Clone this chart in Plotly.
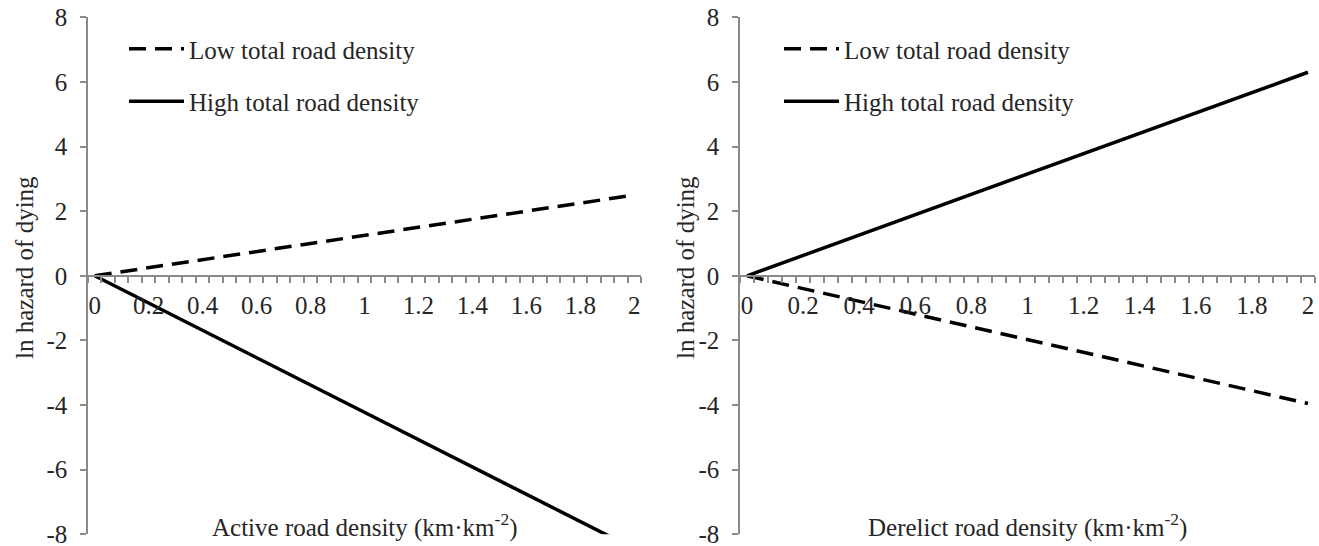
import plotly.graph_objects as go

# ---- data ----
x_density = [0, 2]
active_low = [0, 2.5]
active_high = [0, -8.45]
derelict_low = [0, -3.95]
derelict_high = [0, 6.3]

series_names = ["Low total road density", "High total road density"]
x_titles = ["Active road density (km·km<sup>-2</sup>)",
            "Derelict road density (km·km<sup>-2</sup>)"]
y_title = "ln hazard of dying"
y_tickvals = [-8, -6, -4, -2, 0, 2, 4, 6, 8]
y_ticktext = ["-8", "-6", "-4", "-2", "0", "2", "4", "6", "8"]
x_tickvals = [0, 0.2, 0.4, 0.6, 0.8, 1, 1.2, 1.4, 1.6, 1.8, 2]
x_ticktext = ["0", "0.2", "0.4", "0.6", "0.8", "1", "1.2", "1.4", "1.6", "1.8", "2"]

W, H = 1319, 546
FONT = "Liberation Serif"
FS = 25
AXC = "#8a8a8a"
TXT = "#262626"

ydom = [(546 - 534.3) / H, (546 - 17.3) / H]
xdoms = [[88 / W, 641 / W], [740 / W, 1315 / W]]
ymid = (ydom[0] + ydom[1]) / 2

fig = go.Figure()
DASH = "17px,9px"

panels = [(active_low, active_high, "x", "y", "legend"),
          (derelict_low, derelict_high, "x2", "y2", "legend2")]
for i, (low, high, xa, ya, lg) in enumerate(panels):
    fig.add_trace(go.Scatter(x=x_density, y=low, mode="lines", name=series_names[0],
                             line=dict(color="black", width=3.5, dash=DASH),
                             xaxis=xa, yaxis=ya, legend=lg, legendgroup=f"a{i}"))
    fig.add_trace(go.Scatter(x=x_density, y=high, mode="lines", name=series_names[1],
                             line=dict(color="black", width=3.5),
                             xaxis=xa, yaxis=ya, legend=lg, legendgroup=f"b{i}"))

def xaxis_cfg(dom):
    return dict(domain=dom, range=[-0.025, 2.025], anchor="free", position=ymid,
                showgrid=False, zeroline=False, automargin=False,
                showline=True, linecolor=AXC, linewidth=1.5,
                tickmode="array", tickvals=x_tickvals, ticktext=x_ticktext,
                ticks="", ticklabelstandoff=7, ticklabeloverflow="allow",
                tickfont=dict(family=FONT, size=FS, color=TXT),
                minor=dict(tick0=-0.025, dtick=0.05, ticks="outside", ticklen=6,
                           tickcolor=AXC, tickwidth=1.5, showgrid=False))

def yaxis_cfg(xanchor):
    return dict(domain=ydom, range=[-8, 8], anchor=xanchor, showgrid=False,
                zeroline=False, automargin=False,
                showline=True, linecolor=AXC, linewidth=1.5,
                tickmode="array", tickvals=y_tickvals, ticktext=y_ticktext,
                ticks="outside", ticklen=6, tickcolor=AXC, tickwidth=1.5,
                ticklabelstandoff=8, ticklabeloverflow="allow",
                tickfont=dict(family=FONT, size=FS, color=TXT))

legend_common = dict(xanchor="left", yanchor="top", bgcolor="rgba(0,0,0,0)",
                     itemwidth=55, tracegroupgap=17, traceorder="grouped",
                     font=dict(family=FONT, size=FS, color=TXT))

fig.update_layout(
    width=W, height=H, margin=dict(l=0, r=0, t=0, b=0, autoexpand=False),
    paper_bgcolor="white", plot_bgcolor="white",
    font=dict(family=FONT, size=FS, color=TXT),
    xaxis=xaxis_cfg(xdoms[0]),
    xaxis2=xaxis_cfg(xdoms[1]),
    yaxis=yaxis_cfg("x"),
    yaxis2=yaxis_cfg("x2"),
    legend=dict(x=124 / W, y=(546 - 26) / H, **legend_common),
    legend2=dict(x=779 / W, y=(546 - 26) / H, **legend_common),
    showlegend=True,
)

for i, dom in enumerate(xdoms):
    fig.add_annotation(text=x_titles[i], xref="paper", yref="paper",
                       x=(dom[0] + dom[1]) / 2, y=(546 - 525) / H,
                       xanchor="center", yanchor="middle", showarrow=False,
                       font=dict(family=FONT, size=FS, color=TXT))
    fig.add_annotation(text=y_title, xref="paper", yref="paper",
                       x=(24 if i == 0 else 685) / W, y=(546 - 268) / H, textangle=-90,
                       xanchor="center", yanchor="middle", showarrow=False,
                       font=dict(family=FONT, size=FS, color=TXT))

fig.write_html("out.html", config={"displayModeBar": False},
               post_script="document.body.style.margin='0';document.body.style.overflow='hidden';")
